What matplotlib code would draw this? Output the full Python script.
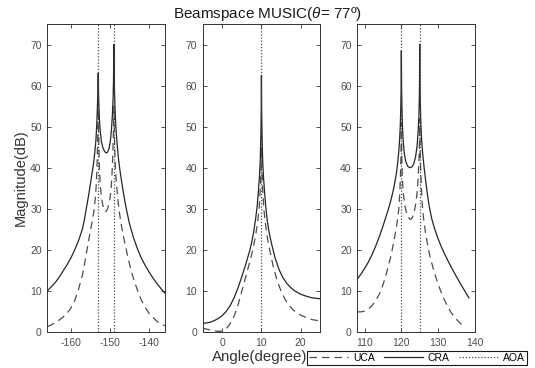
import matplotlib
matplotlib.use("Agg")
import matplotlib.pyplot as plt
from matplotlib.lines import Line2D

plt.rcParams['font.family'] = ['Liberation Sans', 'DejaVu Sans']
plt.rcParams['mathtext.fontset'] = 'custom'
plt.rcParams['mathtext.rm'] = 'Liberation Sans'
plt.rcParams['mathtext.it'] = 'Liberation Sans:italic'
plt.rcParams['axes.unicode_minus'] = False

# panel 1: AOA -153, -149
p1_aoa = [-153, -149]
p1_cra_x = [-166, -165, -164, -163, -162, -161, -160, -159, -158, -157, -156.5, -156, -155.5,
            -155, -154.6, -154.2, -153.9, -153.6, -153.4, -153.2, -153.1, -153, -152.9, -152.7,
            -152.5, -152.2, -151.8, -151.4, -151, -150.6, -150.2, -149.9, -149.6, -149.4,
            -149.2, -149.1, -149, -148.9, -148.8, -148.6, -148.4, -148.1, -147.8, -147.4, -147,
            -146.5, -146, -145.5, -145, -144, -143, -142, -141, -140, -139, -138, -137, -136]
p1_cra_y = [10, 11, 12, 13.3, 14.8, 16.3, 18, 20, 22.3, 25.2, 27.5, 30.3, 33,
            36, 38.5, 41, 43.5, 46.5, 50, 55, 58, 63, 57, 52,
            49, 46.5, 44.8, 44, 43.6, 43.8, 44.8, 46.5, 49.5, 52.5,
            57, 61, 70, 61, 57, 52, 48.5, 45, 42, 39, 36.5,
            33.5, 30.8, 28.5, 26.3, 23, 20.3, 18, 16.2, 14.6, 13.1, 11.8, 10.6, 9.5]
p1_uca_x = [-166, -165, -164, -163, -162, -161, -160, -159, -158, -157, -156.5, -156, -155.5,
            -155, -154.5, -154, -153.7, -153.5, -153.3, -153.15, -153, -152.85, -152.7, -152.5,
            -152.2, -151.9, -151.5, -151.1, -150.7, -150.3, -150, -149.7, -149.5, -149.3,
            -149.15, -149, -148.85, -148.7, -148.5, -148.2, -147.9, -147.5, -147, -146.5, -146,
            -145.5, -145, -144, -143, -142, -141, -140, -139, -138, -137, -136]
p1_uca_y = [1.3, 1.7, 2.3, 2.9, 3.6, 4.5, 5.8, 7.6, 10.5, 14, 16.5, 19.3, 22,
            24.6, 27.2, 30, 33, 36, 40.5, 46, 56, 46, 40, 36,
            33, 31.2, 29.8, 29.3, 29.8, 31, 32.5, 35, 38, 42.5,
            47, 55, 47, 42, 38, 34.5, 31.5, 28.5, 25.5, 23, 20.8,
            18.5, 16.5, 13, 10.2, 7.8, 6, 4.5, 3.5, 2.6, 2, 1.5]

# panel 2: AOA 10
p2_aoa = [10]
p2_cra_x = [-5, -4, -3, -2, -1, 0, 1, 2, 3, 4, 5, 6, 7, 7.5, 8, 8.5, 8.9, 9.2, 9.5, 9.7, 9.85,
            9.95, 10, 10.05, 10.15, 10.3, 10.5, 10.8, 11.1, 11.5, 12, 12.7, 13.5, 14.5, 15.5,
            16.5, 17.5, 18.5, 20, 21.5, 23, 25]
p2_cra_y = [2.1, 2.2, 2.4, 2.8, 3.3, 4.0, 5.0, 6.4, 8.3, 10.7, 13.5, 16.5, 19.8, 21.8, 24.3,
            27.5, 30.5, 34, 38, 42, 48, 54, 62.5, 54, 48, 42, 38, 34, 30.5, 27, 24, 21, 18,
            15.2, 13.2, 11.8, 10.8, 10, 9.2, 8.7, 8.3, 8.1]
p2_uca_x = [-5, -4, -3, -2, -1, 0, 1, 2, 3, 4, 5, 6, 7, 7.8, 8.5, 9, 9.4, 9.7, 9.9, 10, 10.1,
            10.3, 10.6, 11, 11.5, 12.1, 13, 14, 15, 16, 17, 18, 19, 20, 21.5, 23, 25]
p2_uca_y = [0.9, 0.7, 0.5, 0.3, 0.15, 0.2, 0.8, 2.0, 3.8, 6.5, 10, 13.5, 17, 20, 23.5, 26.5,
            30, 35, 40, 45, 40, 35, 30, 26.5, 23, 20, 16, 12.5, 10, 8, 6.5, 5.5, 4.7, 4.1,
            3.5, 3.0, 2.7]

# panel 3: AOA 120, 125
p3_aoa = [120, 125]
p3_cra_x = [108, 109, 110, 111, 112, 113, 114, 115, 116, 116.6, 117.2, 117.8, 118.3, 118.7, 119,
            119.3, 119.5, 119.7, 119.85, 119.95, 120, 120.05, 120.15, 120.3, 120.5, 120.8,
            121.2, 121.7, 122.3, 122.9, 123.4, 123.9, 124.3, 124.55, 124.75, 124.9, 124.95,
            125, 125.05, 125.15, 125.3, 125.5, 125.8, 126.2, 126.6, 127.1, 127.6, 128.3, 129,
            130, 131, 132, 133, 134, 135, 136, 137, 138.4]
p3_cra_y = [12.9, 14.1, 15.5, 17, 18.8, 20.9, 23.2, 25.8, 28.6, 30.3, 32.3, 34.5, 36.8, 39, 41.2,
            44, 46.5, 50, 55, 60, 68.5, 60, 55, 50, 46.5, 43.5,
            41.5, 40.4, 40, 40.2, 41, 42.8, 45.5, 48.5, 52, 57, 61,
            70, 61, 56, 51, 47, 43.5, 40, 37, 33.5, 30.5, 27.5, 25.3,
            22.7, 20.5, 18.6, 16.8, 15.1, 13.5, 11.9, 10.4, 8.3]
p3_uca_x = [108, 109, 110, 111, 112, 113, 114, 115, 116, 117, 117.5, 118, 118.5, 119, 119.3,
            119.55, 119.75, 119.9, 120, 120.1, 120.25, 120.5, 120.9, 121.4, 122, 122.5, 123,
            123.5, 123.9, 124.3, 124.6, 124.8, 124.93, 125, 125.07, 125.2, 125.4, 125.7, 126,
            126.6, 127.4, 128, 129, 130, 130.7, 131.5, 132.5, 133.5, 134.5, 135.5, 136.8]
p3_uca_y = [4.9, 4.9, 5.1, 5.6, 6.4, 7.6, 9.2, 11.5, 14.5, 18, 20, 22.3, 24.8, 27.5, 30,
            33.5, 38, 43, 51, 43, 38, 34, 31, 29, 27.8, 27.4, 27.9,
            29.2, 31.2, 34, 38, 42, 46, 52, 46, 41, 36, 31, 28,
            24, 20, 17.7, 14.4, 11.7, 10, 8.3, 6.4, 4.8, 3.6, 2.6, 1.5]

panels = [
    (p1_uca_x, p1_uca_y, p1_cra_x, p1_cra_y, p1_aoa, (-166, -136), [-160, -150, -140]),
    (p2_uca_x, p2_uca_y, p2_cra_x, p2_cra_y, p2_aoa, (-5, 25), [0, 10, 20]),
    (p3_uca_x, p3_uca_y, p3_cra_x, p3_cra_y, p3_aoa, (108, 140), [110, 120, 130, 140]),
]

W, H = 535, 368
fig = plt.figure(figsize=(W / 100, H / 100), dpi=100)
lefts = [47.3, 202.7, 357.3]
axes = []
for left, (ux, uy, cx, cy, aoa, xlim, xt) in zip(lefts, panels):
    ax = fig.add_axes([left / W, 1 - 332 / H, 117.5 / W, 308 / H])
    ax.plot(ux, uy, color='0.3', lw=0.9, dashes=(6, 4))
    ax.plot(cx, cy, color='0.15', lw=0.9)
    for a in aoa:
        ax.axvline(a, color='0.3', lw=0.9, ls=(0, (1, 1.5)))
    ax.set_xlim(*xlim)
    ax.set_ylim(0, 75)
    ax.set_xticks(xt)
    ax.set_yticks(range(0, 71, 10))
    ax.tick_params(direction='in', top=True, right=True, length=3, width=0.6,
                   labelsize=7.5, labelcolor='0.3', color='0.2', pad=4)
    for s in ax.spines.values():
        s.set_color('0.2')
        s.set_linewidth(0.7)
    axes.append(ax)

axes[0].set_ylabel('Magnitude(dB)', fontsize=10.5, color='0.2', labelpad=2)
fig.text(260 / W, 1 - 357 / H, 'Angle(degree)', fontsize=10.8, color='0.2',
         ha='center', va='center')
fig.text(268 / W, 1 - 18 / H, r'Beamspace MUSIC($\theta$= 77º)', fontsize=11,
         color='0.1', ha='center', va='baseline')

handles = [Line2D([], [], color='0.3', lw=0.9, dashes=(6, 4)),
           Line2D([], [], color='0.15', lw=0.9),
           Line2D([], [], color='0.3', lw=0.9, ls=(0, (1, 1.5)))]
leg = fig.legend(handles, ['UCA', 'CRA', 'AOA'], loc='center',
                 bbox_to_anchor=(417 / W, 1 - 358 / H), ncol=3, fontsize=7.5,
                 frameon=True, fancybox=False, edgecolor='0.1', framealpha=1,
                 handlelength=3.7, handletextpad=0.5, columnspacing=0.9,
                 borderpad=0.2, borderaxespad=0)
leg.get_frame().set_linewidth(0.8)

fig.savefig('out.png', dpi=100)
